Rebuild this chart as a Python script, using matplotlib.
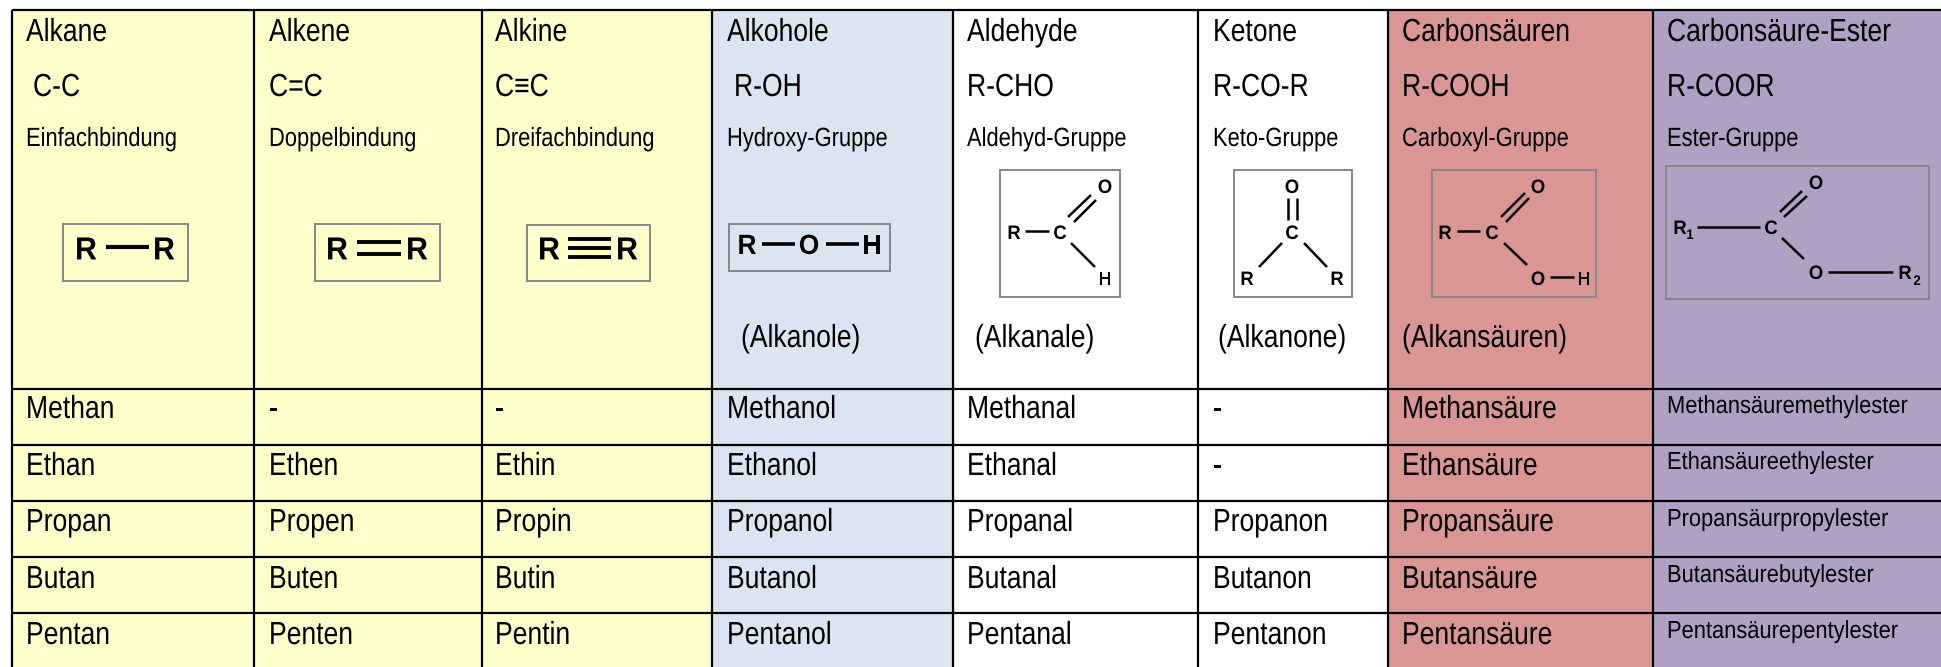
import matplotlib
matplotlib.use("Agg")
import matplotlib.pyplot as plt
from matplotlib.patches import Rectangle
from matplotlib.patheffects import AbstractPathEffect
from matplotlib.transforms import Affine2D

plt.rcParams['font.family'] = ['Liberation Sans', 'DejaVu Sans']

# table grid, in pixels of the picture
col_edges = [12, 254, 482, 712, 953, 1198, 1388, 1653, 1941]
row_lines = [10, 389, 445, 501, 557, 613]
col_colors = ['#FFFFCC', '#FFFFCC', '#FFFFCC', '#DBE5F1', '#FFFFFF', '#FFFFFF', '#D99694', '#B0A0C4']

# header texts
names = ['Alkane', 'Alkene', 'Alkine', 'Alkohole', 'Aldehyde', 'Ketone', 'Carbonsäuren', 'Carbonsäure-Ester']
formulas = ['C-C', 'C=C', 'C≡C', 'R-OH', 'R-CHO', 'R-CO-R', 'R-COOH', 'R-COOR']
groups = ['Einfachbindung', 'Doppelbindung', 'Dreifachbindung', 'Hydroxy-Gruppe', 'Aldehyd-Gruppe',
          'Keto-Gruppe', 'Carboxyl-Gruppe', 'Ester-Gruppe']
families = ['', '', '', '(Alkanole)', '(Alkanale)', '(Alkanone)', '(Alkansäuren)', '']

# substance names, one list per column
alkane = ['Methan', 'Ethan', 'Propan', 'Butan', 'Pentan']
alkene = ['-', 'Ethen', 'Propen', 'Buten', 'Penten']
alkine = ['-', 'Ethin', 'Propin', 'Butin', 'Pentin']
alkohole = ['Methanol', 'Ethanol', 'Propanol', 'Butanol', 'Pentanol']
aldehyde = ['Methanal', 'Ethanal', 'Propanal', 'Butanal', 'Pentanal']
ketone = ['-', '-', 'Propanon', 'Butanon', 'Pentanon']
saeuren = ['Methansäure', 'Ethansäure', 'Propansäure', 'Butansäure', 'Pentansäure']
ester = ['Methansäuremethylester', 'Ethansäureethylester', 'Propansäurpropylester',
         'Butansäurebutylester', 'Pentansäurepentylester']
columns = [alkane, alkene, alkine, alkohole, aldehyde, ketone, saeuren, ester]

# text positions
text_x = [26, 269, 495, 727, 967, 1213, 1402, 1667]
formula_x = [33, 269, 495, 734, 967, 1213, 1402, 1667]
family_x = [0, 0, 0, 741, 975, 1218, 1402, 0]
row_base = [418, 475, 531, 588, 644]
ester_base = [413, 469, 526, 582, 638]

# structure drawings: box, atom labels and bonds
diagrams = [
    dict(box=(63, 224, 188, 281), size=23, atoms=[('R', 86, 248), ('R', 164, 248)],
         bonds=[(106, 247, 149, 247)], lw=3.0),
    dict(box=(315, 224, 440, 281), size=23, atoms=[('R', 337, 248), ('R', 417, 248)],
         bonds=[(357, 242, 401, 242), (357, 254, 401, 254)], lw=2.8),
    dict(box=(527, 225, 650, 281), size=23, atoms=[('R', 549, 248), ('R', 627, 248)],
         bonds=[(568, 239, 611, 239), (568, 248, 611, 248), (568, 257, 611, 257)], lw=2.8),
    dict(box=(729, 224, 890, 271), size=20, atoms=[('R', 747, 244), ('O', 809, 244), ('H', 872, 244)],
         bonds=[(762, 244, 795, 244), (826, 244, 859, 244)], lw=2.6),
    dict(box=(1000, 170, 1120, 297), size=14, atoms=[('R', 1014, 232), ('C', 1060, 232), ('O', 1105, 186), ('H', 1105, 278)],
         bonds=[(1025, 231, 1049, 231), (1068, 217, 1091, 195), (1074, 222, 1096, 200), (1071, 243, 1095, 267)], lw=1.8),
    dict(box=(1234, 170, 1352, 297), size=14, atoms=[('O', 1292, 186), ('C', 1292, 232), ('R', 1247, 278), ('R', 1337, 278)],
         bonds=[(1288, 198, 1288, 220), (1297, 198, 1297, 220), (1282, 243, 1259, 267), (1304, 243, 1327, 267)], lw=1.8),
    dict(box=(1432, 170, 1596, 297), size=14, atoms=[('R', 1445, 232), ('C', 1492, 232), ('O', 1538, 186), ('O', 1538, 278), ('H', 1584, 278)],
         bonds=[(1457, 231, 1480, 231), (1501, 217, 1525, 193), (1506, 222, 1529, 198), (1504, 243, 1527, 265), (1550, 277, 1574, 277)], lw=1.8),
    dict(box=(1666, 166, 1929, 299), size=14, atoms=[('R', 1680, 227), ('C', 1771, 227), ('O', 1816, 182), ('O', 1816, 272), ('R', 1905, 272)],
         bonds=[(1697, 227, 1760, 227), (1780, 212, 1802, 191), (1784, 217, 1807, 196), (1782, 238, 1804, 259), (1828, 272, 1893, 272)], lw=1.8),
]
subscripts = [('1', 1690, 234), ('2', 1917, 280)]


# the installed fonts have no narrow cut, so squeeze the glyphs sideways
class Narrow(AbstractPathEffect):
    def __init__(self, factor):
        super().__init__()
        self.factor = factor

    def draw_path(self, renderer, gc, tpath, affine, rgbFace=None):
        renderer.draw_path(gc, tpath, Affine2D().scale(self.factor, 1) + affine, rgbFace)


def label(x, y, s, size, factor=0.83):
    ax.text(x, y, s, fontsize=size, va='baseline', ha='left', path_effects=[Narrow(factor)])


def atom(x, y, s, size):
    # centre on the capital letter, the squeeze works from the left edge of the text
    t = ax.text(x, y + 0.358 * size * 100 / 72, s, fontsize=size, fontweight='bold', va='baseline', ha='left',
                path_effects=[Narrow(0.95)], zorder=4)
    w = t.get_window_extent(fig.canvas.get_renderer()).width * 0.95
    t.set_x(x - w / 2)


fig = plt.figure(figsize=(19.41, 6.67), dpi=100)
ax = fig.add_axes([0, 0, 1, 1])
ax.set_xlim(0, 1941)
ax.set_ylim(667, 0)
ax.axis('off')

# coloured columns
for i, color in enumerate(col_colors):
    ax.add_patch(Rectangle((col_edges[i], row_lines[0]), col_edges[i + 1] - col_edges[i], 667 - row_lines[0],
                           facecolor=color, edgecolor='none', zorder=1))

# grid
for x in col_edges[:-1]:
    ax.plot([x, x], [row_lines[0], 667], color='black', lw=1.6, zorder=2, solid_capstyle='butt')
for y in row_lines:
    ax.plot([col_edges[0], 1941], [y, y], color='black', lw=1.6, zorder=2, solid_capstyle='butt')

# header texts
for i in range(8):
    label(text_x[i], 41, names[i], 23)
    label(formula_x[i], 96, formulas[i], 23)
    label(text_x[i], 146, groups[i], 19)
    if families[i]:
        label(family_x[i], 347, families[i], 23)

# substance rows
for i, col in enumerate(columns):
    for j, name in enumerate(col):
        if i == 7:
            label(text_x[i], ester_base[j], name, 17.8, factor=0.885)
        else:
            label(text_x[i], row_base[j], name, 23)

# structure drawings
for d in diagrams:
    x0, y0, x1, y1 = d['box']
    ax.add_patch(Rectangle((x0, y0), x1 - x0, y1 - y0, facecolor='none', edgecolor='#868686', lw=1.4, zorder=3))
    for s, x, y in d['atoms']:
        atom(x, y, s, d['size'])
    for xa, ya, xb, yb in d['bonds']:
        ax.plot([xa, xb], [ya, yb], color='black', lw=d['lw'], zorder=4, solid_capstyle='butt')

for s, x, y in subscripts:
    atom(x, y, s, 10)

fig.savefig('out.png', dpi=100)
